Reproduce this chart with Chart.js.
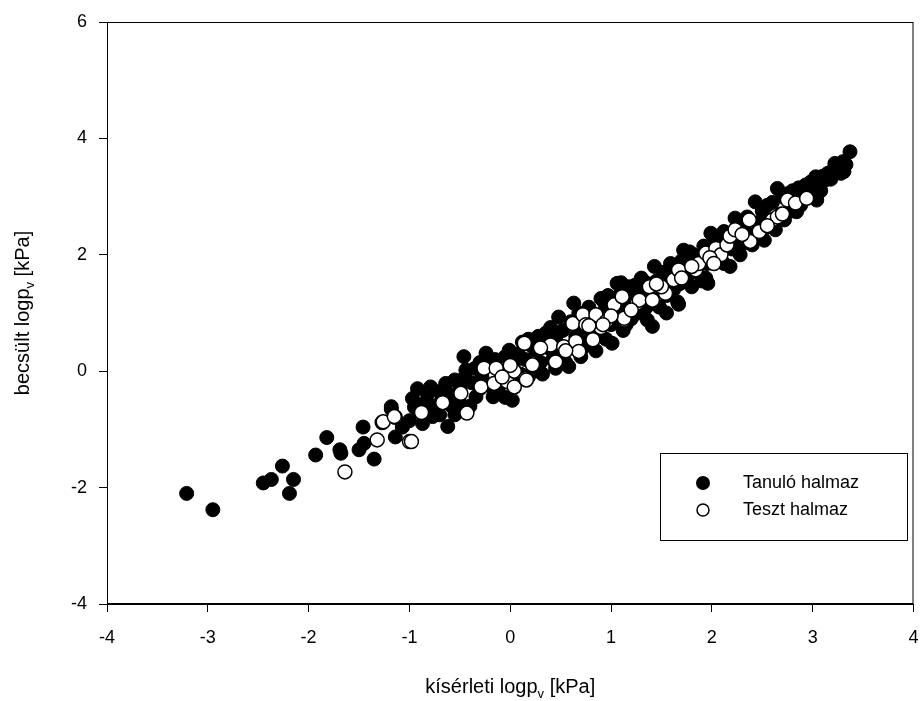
<!DOCTYPE html>
<html>
<head>
<meta charset="utf-8">
<script src="https://cdn.jsdelivr.net/npm/chart.js@4.4.1/dist/chart.umd.min.js"></script>
<style>
  html, body { margin: 0; padding: 0; background: #fff; }
  #wrap { width: 922px; height: 701px; }
</style>
</head>
<body>
<div id="wrap"><canvas id="scatter" width="922" height="701"></canvas></div>
<script>
// Tanuló halmaz (kísérleti, becsült)
const tanuloX = [-3.21,-2.95,-2.45,-2.37,-2.26,-2.15,-2.19,-1.93,-1.82,-1.69,-1.68,-1.46,-1.50,-1.45,-1.35,-1.18,-1.14,-1.07,-1.18,
  -1.07,-0.97,-0.87,-0.79,-0.77,-0.64,-0.62,-0.46,-0.44,-0.34,-0.24,-0.17,-0.01,0.02,
  -1.00,-0.95,-0.90,-0.85,-0.82,-0.75,-0.70,-0.70,-0.68,-0.60,-0.58,-0.55,-0.50,-0.50,-0.45,-0.40,-0.38,-0.35,-0.30,-0.28,-0.22,-0.20,-0.15,-0.12,-0.10,-0.08,-0.05,0.00,0.03,
  0.25,0.35,0.48,0.58,0.63,0.90,1.01,1.06,0.93,1.10,
  0.08,0.10,0.12,0.15,0.18,0.20,0.22,0.28,0.30,0.32,0.38,0.40,0.42,0.45,0.50,0.52,0.55,0.60,0.62,0.65,0.68,0.70,0.72,0.75,0.78,0.80,0.82,0.85,0.88,0.92,0.95,0.97,1.00,
  1.24,1.36,1.43,1.59,1.66,1.72,1.96,1.99,1.41,1.67,1.94,
  1.03,1.05,1.08,1.10,1.12,1.15,1.18,1.20,1.22,1.27,1.30,1.32,1.35,1.38,1.40,1.45,1.48,1.50,1.52,1.55,1.58,1.62,1.65,1.68,1.70,1.75,1.78,1.80,1.82,1.85,1.88,1.90,1.92,1.95,1.98,
  2.18,2.23,2.43,2.40,2.63,2.65,2.84,2.93,3.03,3.13,3.22,3.31,3.37,3.04,
  2.02,2.05,2.08,2.10,2.12,2.15,2.20,2.25,2.28,2.30,2.32,2.35,2.38,2.45,2.48,2.50,2.52,2.55,2.58,2.60,2.68,2.70,2.72,2.75,2.78,2.80,2.82,2.86,2.88,2.90,2.95,2.98,3.00,3.05,3.08,3.10,3.15,3.18,3.20,3.25,3.28,3.30,3.33,
  -0.92,-0.55,-0.30,-0.05,0.18,0.45,0.72,1.15,1.32,1.55,1.78,2.12,2.52];
const tanuloY = [-2.10,-2.38,-1.92,-1.86,-1.63,-1.86,-2.10,-1.44,-1.14,-1.35,-1.41,-0.96,-1.35,-1.24,-1.51,-0.65,-1.13,-0.96,-0.61,
  -0.95,-0.47,-0.90,-0.27,-0.78,-0.21,-0.95,0.25,0.02,-0.44,0.31,-0.44,0.36,-0.50,
  -0.85,-0.62,-0.70,-0.55,-0.40,-0.60,-0.35,-0.75,-0.50,-0.40,-0.60,-0.15,-0.55,-0.30,-0.10,-0.60,-0.20,0.05,-0.30,-0.10,0.10,-0.25,0.20,-0.30,0.00,-0.15,0.25,-0.20,0.10,
  0.36,0.65,0.93,0.08,1.17,1.25,0.48,1.51,1.19,1.52,
  0.30,-0.05,0.50,0.20,-0.10,0.45,0.00,0.60,0.15,-0.05,0.40,0.75,0.20,0.55,0.35,0.70,0.15,0.85,0.40,0.60,1.00,0.25,0.75,0.50,1.10,0.70,0.90,0.35,0.65,1.00,0.55,1.30,0.80,
  1.48,0.88,1.80,1.85,1.19,2.08,1.51,2.37,0.77,1.15,1.60,
  1.20,0.85,1.00,1.35,0.70,1.10,1.45,0.90,1.25,1.00,1.60,1.30,1.10,1.50,1.25,1.55,1.10,1.40,1.70,1.30,1.55,1.40,1.75,1.50,1.90,1.60,1.85,1.45,2.00,1.70,1.95,1.55,2.15,1.85,2.00,
  1.80,2.63,2.91,2.17,2.43,3.14,2.74,3.20,3.34,3.29,3.57,3.43,3.77,2.94,
  2.20,1.90,2.30,2.05,1.85,2.35,2.10,2.30,2.00,2.50,2.20,2.65,2.35,2.55,2.30,2.75,2.45,2.85,2.60,2.90,2.70,3.00,2.60,3.05,2.75,3.10,2.90,3.15,2.85,3.05,3.00,3.25,3.10,3.20,3.10,3.35,3.40,3.30,3.45,3.50,3.40,3.60,3.55,
  -0.30,-0.75,0.15,-0.45,0.55,0.05,0.40,0.80,1.55,1.00,2.05,2.40,2.25];

// Teszt halmaz
const tesztX = [-1.64,-1.32,-1.27,-1.14,-1.00,-1.26,-1.15,-0.98,-0.88,-0.67,-0.49,-0.43,-0.29,-0.26,-0.16,-0.14,-0.03,0.04,0.04,0.14,0.15,0.22,0.40,0.45,0.53,0.62,0.65,0.68,0.72,0.82,0.85,0.95,1.03,1.13,1.11,1.26,1.13,1.28,1.38,1.41,1.54,1.62,1.67,1.84,1.87,1.94,2.04,2.09,2.15,2.18,2.23,2.37,2.38,2.47,2.60,2.65,2.75,2.83,2.94,
  -0.08,0.00,0.30,0.55,0.75,0.90,1.00,1.20,1.50,1.70,1.80,1.98,2.02,2.30,2.55,2.70,1.45,0.78,0.92,0.16];
const tesztY = [-1.73,-1.18,-0.88,-0.79,-1.21,-0.87,-0.78,-1.21,-0.71,-0.54,-0.38,-0.72,-0.27,0.05,-0.21,0.05,-0.18,0.00,-0.27,0.48,-0.13,0.11,0.45,0.16,0.42,0.82,0.51,0.34,0.97,0.54,0.97,0.85,1.14,0.88,1.28,1.17,0.91,1.22,1.45,1.22,1.34,1.57,1.74,1.74,1.85,2.03,2.11,2.00,2.17,2.32,2.43,2.60,2.23,2.40,2.60,2.65,2.94,2.89,2.97,
  -0.10,0.10,0.40,0.35,0.80,0.75,0.95,1.05,1.45,1.60,1.80,1.95,1.85,2.35,2.50,2.70,1.50,0.78,0.80,-0.15];

const xTicks = [-4,-3,-2,-1,0,1,2,3,4];
const yTicks = [-4,-2,0,2,4,6];

const FONT = 'Arial, "Liberation Sans", sans-serif';

function toPoints(xs, ys) {
  return xs.map(function (x, i) { return { x: x, y: ys[i] }; });
}

// keret, tengelyfeliratok (alsó index) és jelmagyarázat
const decorPlugin = {
  id: 'decor',
  afterDraw: function (chart) {
    const ctx = chart.ctx;
    const a = chart.chartArea;
    ctx.save();
    ctx.strokeStyle = '#000';
    ctx.lineWidth = 1;
    ctx.strokeRect(a.left + 0.5, a.top + 0.5, a.right - a.left - 1, a.bottom - a.top - 1);

    // feliratok alsó indexszel
    function subText(parts, cx, cy) {
      ctx.textBaseline = 'alphabetic';
      ctx.textAlign = 'left';
      let w = 0;
      parts.forEach(function (p) {
        ctx.font = (p.sub ? 13 : 20) + 'px ' + FONT;
        w += ctx.measureText(p.t).width;
      });
      let x = cx - w / 2;
      parts.forEach(function (p) {
        ctx.font = (p.sub ? 13 : 20) + 'px ' + FONT;
        ctx.fillText(p.t, x, cy + (p.sub ? 5 : 0));
        x += ctx.measureText(p.t).width;
      });
    }
    ctx.fillStyle = '#000';
    subText([{ t: 'kísérleti logp' }, { t: 'v', sub: true }, { t: ' [kPa]' }], (a.left + a.right) / 2, 693);
    ctx.save();
    ctx.translate(29, (a.top + a.bottom) / 2);
    ctx.rotate(-Math.PI / 2);
    subText([{ t: 'becsült logp' }, { t: 'v', sub: true }, { t: ' [kPa]' }], 0, 0);
    ctx.restore();

    // jelmagyarázat
    const lx = 660, ly = 453, lw = 247, lh = 87;
    ctx.fillStyle = '#fff';
    ctx.fillRect(lx, ly, lw, lh);
    ctx.strokeRect(lx + 0.5, ly + 0.5, lw, lh);
    ctx.beginPath();
    ctx.arc(703, 483, 7, 0, Math.PI * 2);
    ctx.fillStyle = '#000';
    ctx.fill();
    ctx.beginPath();
    ctx.arc(703, 510, 6, 0, Math.PI * 2);
    ctx.fillStyle = '#fff';
    ctx.fill();
    ctx.lineWidth = 1.5;
    ctx.stroke();
    ctx.fillStyle = '#000';
    ctx.font = '18px ' + FONT;
    ctx.textBaseline = 'middle';
    ctx.textAlign = 'left';
    ctx.fillText('Tanuló halmaz', 743, 483);
    ctx.fillText('Teszt halmaz', 743, 510);
    ctx.restore();
  }
};

const ctx = document.getElementById('scatter').getContext('2d');
new Chart(ctx, {
  type: 'scatter',
  data: {
    datasets: [{
      label: 'Tanuló halmaz',
      data: toPoints(tanuloX, tanuloY),
      backgroundColor: '#000',
      borderColor: '#000',
      borderWidth: 1,
      pointRadius: 7,
      order: 2
    }, {
      label: 'Teszt halmaz',
      data: toPoints(tesztX, tesztY),
      backgroundColor: '#fff',
      borderColor: '#000',
      borderWidth: 1.5,
      pointRadius: 7,
      order: 1
    }]
  },
  options: {
    responsive: false,
    animation: false,
    layout: { padding: { left: 0, right: 4, top: 22, bottom: 0 } },
    plugins: {
      legend: { display: false },
      tooltip: { enabled: false }
    },
    scales: {
      x: {
        type: 'linear',
        min: -4,
        max: 4,
        afterFit: function (s) { s.height = 97; s.paddingLeft = 0; s.paddingRight = 0; },
        afterBuildTicks: function (s) { s.ticks = xTicks.map(function (v) { return { value: v }; }); },
        grid: { drawOnChartArea: false, drawTicks: true, tickLength: 8, color: '#000' },
        border: { display: true, color: '#000', width: 1 },
        ticks: { color: '#000', padding: 15, font: { family: FONT, size: 18 }, maxRotation: 0 }
      },
      y: {
        type: 'linear',
        min: -4,
        max: 6,
        afterFit: function (s) { s.width = 107; s.paddingTop = 0; s.paddingBottom = 0; },
        afterBuildTicks: function (s) { s.ticks = yTicks.map(function (v) { return { value: v }; }); },
        grid: { drawOnChartArea: false, drawTicks: true, tickLength: 8, color: '#000' },
        border: { display: true, color: '#000', width: 1 },
        ticks: { color: '#000', padding: 12, font: { family: FONT, size: 18 } }
      }
    }
  },
  plugins: [decorPlugin]
});
</script>
</body>
</html>
